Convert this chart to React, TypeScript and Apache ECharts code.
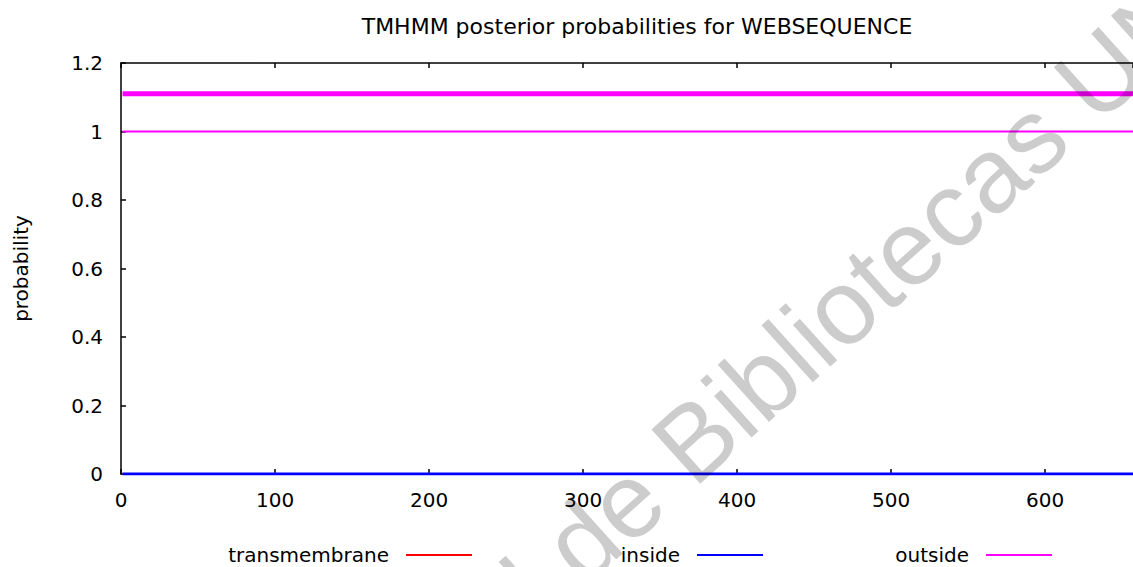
import React, { useEffect, useRef } from "react";
import * as echarts from "echarts";

// ---- data ----
const residueRange = [1, 657];
const transmembraneValues = [0, 0];
const insideValues = [0, 0];
const outsideValues = [1, 1];
const topologyOutsideLevel = [1.11, 1.11];
const seriesNames = ["transmembrane", "inside", "outside"];
const seriesColors = ["#ff0000", "#0000ff", "#ff00ff"];
const titleText = "TMHMM posterior probabilities for WEBSEQUENCE";
const yAxisName = "probability";
const watermarkLeft = "General de";
const watermarkRight = "Bibliotecas UNAM";

const pairs = (ys: number[]) => residueRange.map((x, i) => [x, ys[i]]);

const FONT = "DejaVu Sans";

export default function App() {
  const ref = useRef<HTMLDivElement>(null);
  useEffect(() => {
    if (!ref.current) return;
    const chart = echarts.init(ref.current, null, { renderer: "svg" });
    const rot = (42 * Math.PI) / 180;
    const xFmt = (v: number) => (v % 100 === 0 ? String(v) : "");
    const axisLineStyle = { color: "#000", width: 1.5 };
    const legendBase = {
      top: 545,
      padding: 0,
      align: "right" as const,
      orient: "horizontal" as const,
      icon: "rect",
      itemWidth: 66,
      itemHeight: 2,
      selectedMode: false,
      textStyle: {
        color: "#000",
        fontSize: 20,
        lineHeight: 20,
        fontFamily: FONT,
        padding: [0, 12, 0, 0],
      },
    };
    chart.setOption({
      animation: false,
      backgroundColor: "#fff",
      title: {
        text: titleText,
        left: 632,
        textAlign: "center",
        top: 10,
        textStyle: { color: "#000", fontSize: 22, fontWeight: "normal", fontFamily: FONT },
      },
      grid: { left: 121, top: 63, right: 0, bottom: 93, outerBoundsMode: "none" },
      legend: [
        { ...legendBase, data: [seriesNames[0]], right: 661 },
        { ...legendBase, data: [seriesNames[1]], right: 370 },
        { ...legendBase, data: [seriesNames[2]], right: 81 },
      ],
      xAxis: [
        {
          type: "value",
          min: 0,
          max: residueRange[1],
          interval: 100,
          position: "bottom",
          axisLine: { show: true, lineStyle: axisLineStyle },
          axisTick: { show: true, inside: true, length: 5, lineStyle: axisLineStyle },
          axisLabel: {
            show: true,
            margin: 16,
            color: "#000",
            fontSize: 20,
            fontFamily: FONT,
            formatter: xFmt,
            showMaxLabel: false,
          },
          splitLine: { show: false },
        },
        {
          type: "value",
          min: 0,
          max: residueRange[1],
          interval: 100,
          position: "top",
          axisLine: { show: true, onZero: false, lineStyle: axisLineStyle },
          axisTick: { show: true, inside: true, length: 5, lineStyle: axisLineStyle },
          axisLabel: { show: false },
          splitLine: { show: false },
        },
      ],
      yAxis: {
        type: "value",
        min: 0,
        max: 1.2,
        interval: 0.2,
        name: yAxisName,
        nameLocation: "middle",
        nameRotate: 90,
        nameGap: 90,
        nameTextStyle: { color: "#000", fontSize: 20, fontFamily: FONT },
        axisLine: { show: true, lineStyle: axisLineStyle },
        axisTick: { show: true, inside: true, length: 5, lineStyle: axisLineStyle },
        axisLabel: { margin: 18, color: "#000", fontSize: 20, fontFamily: FONT },
        splitLine: { show: false },
      },
      series: [
        {
          name: seriesNames[0],
          type: "line",
          color: seriesColors[0],
          data: pairs(transmembraneValues),
          showSymbol: false,
          lineStyle: { width: 2, color: seriesColors[0] },
          z: 2,
        },
        {
          name: seriesNames[1],
          type: "line",
          color: seriesColors[1],
          data: pairs(insideValues),
          showSymbol: false,
          lineStyle: { width: 3, color: seriesColors[1] },
          z: 3,
        },
        {
          name: seriesNames[2],
          type: "line",
          color: seriesColors[2],
          data: pairs(outsideValues),
          showSymbol: false,
          lineStyle: { width: 2, color: seriesColors[2] },
          z: 4,
        },
        {
          name: "outside topology",
          type: "line",
          color: seriesColors[2],
          data: pairs(topologyOutsideLevel),
          showSymbol: false,
          lineStyle: { width: 5, color: seriesColors[2] },
          z: 4,
        },
      ],
      graphic: [
        {
          type: "text",
          x: 669,
          y: 462,
          rotation: rot,
          z: 100,
          silent: true,
          style: {
            text: watermarkRight,
            fontSize: 106,
            fontFamily: "Liberation Sans",
            fill: "rgba(0,0,0,0.2)",
            align: "left",
            verticalAlign: "middle",
          },
        },
        {
          type: "text",
          x: 647,
          y: 482,
          rotation: rot,
          z: 100,
          silent: true,
          style: {
            text: watermarkLeft,
            fontSize: 106,
            fontFamily: "Liberation Sans",
            fill: "rgba(0,0,0,0.2)",
            align: "right",
            verticalAlign: "middle",
          },
        },
      ],
    });
    return () => chart.dispose();
  }, []);
  return (
    <div
      ref={ref}
      style={{ position: "fixed", left: 0, top: 0, width: 1133, height: 567, background: "#fff" }}
    />
  );
}
